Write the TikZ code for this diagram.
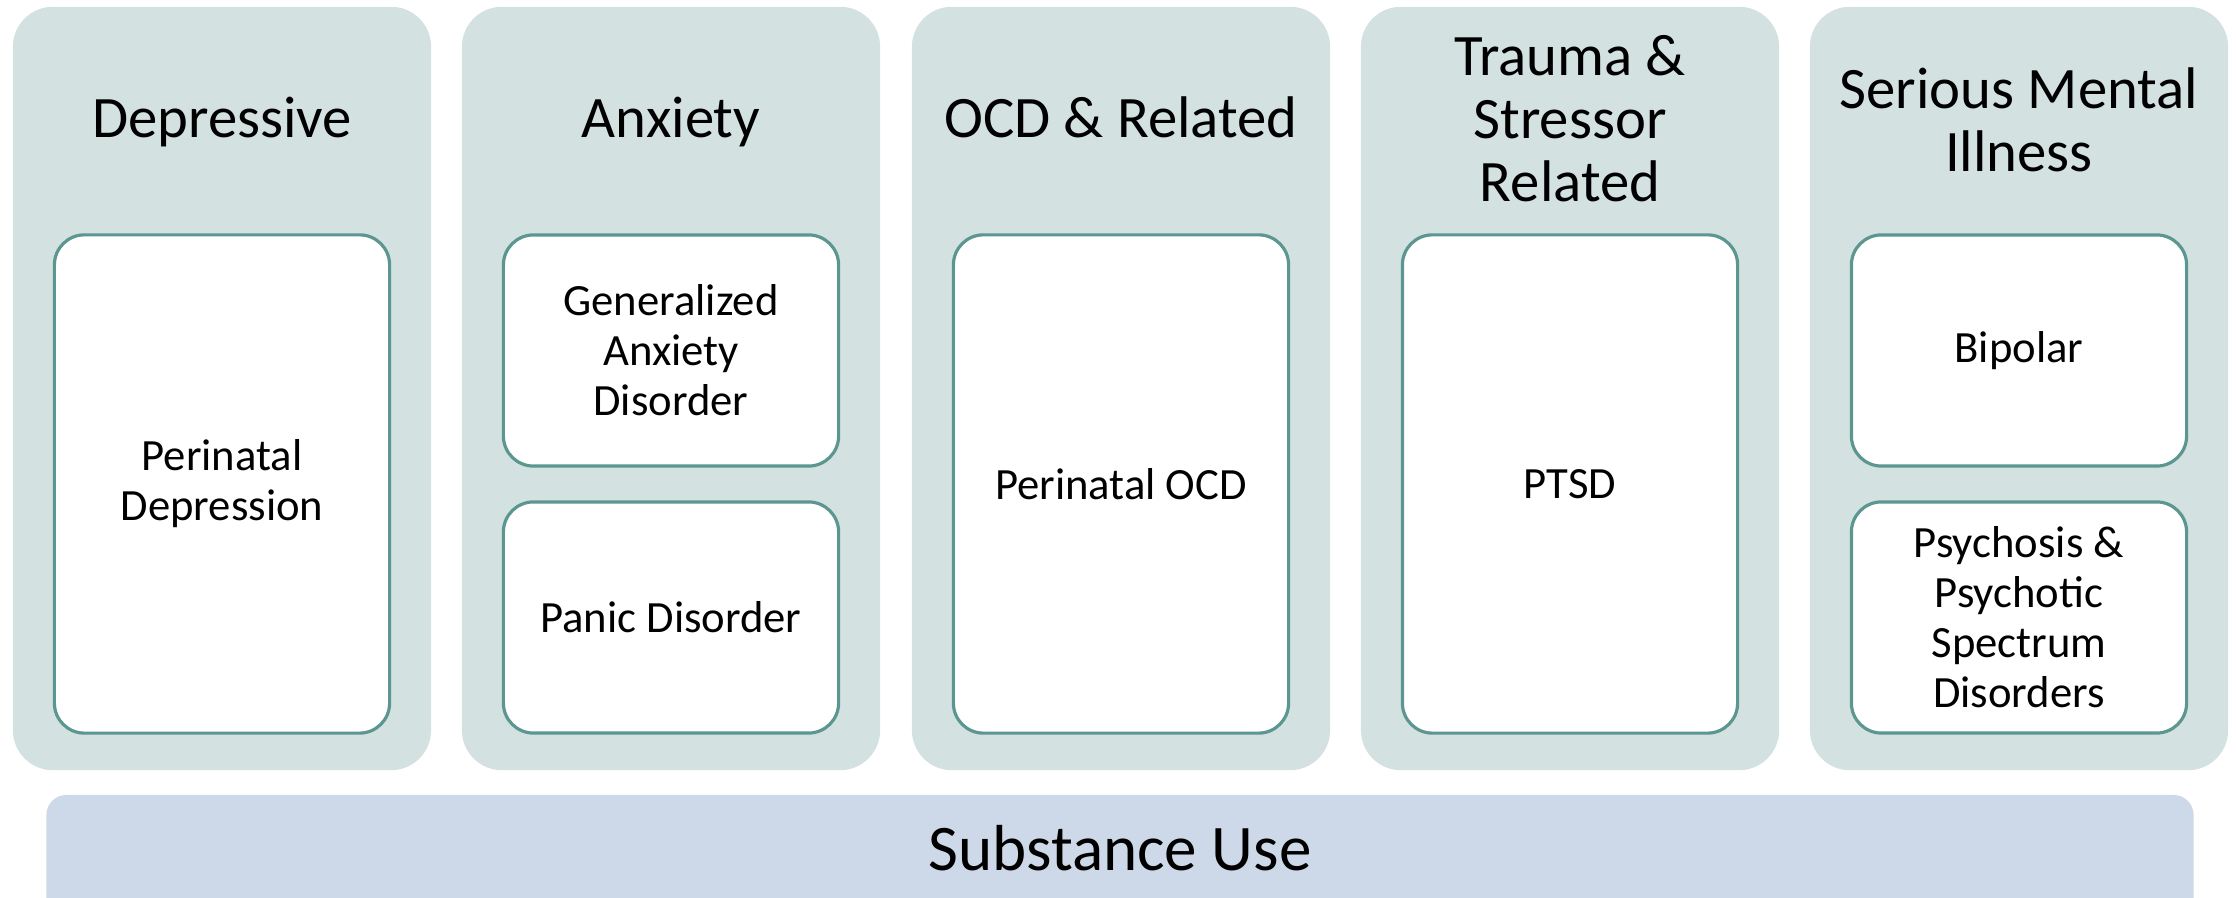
\documentclass[tikz,border=0pt]{standalone}
\usepackage{fontspec}
\setmainfont{Carlito}
\usepackage{tikz}

\definecolor{groupfill}{HTML}{D4E1E1}
\definecolor{itemline}{HTML}{5B9690}
\definecolor{barfill}{HTML}{CDD8E8}

\begin{document}
\begin{tikzpicture}[x=0.01cm,y=-0.01cm,
	group/.style={shape=rectangle,fill=groupfill,rounded corners=0.4cm,minimum width=4.18cm,minimum height=7.63cm,inner sep=0pt},
	heading/.style={align=center,font=\fontsize{16.7}{17.9}\selectfont},
	tall/.style={shape=rectangle,draw=itemline,line width=0.9pt,fill=white,rounded corners=0.3cm,minimum width=3.35cm,minimum height=4.98cm,inner sep=0pt,align=center,font=\fontsize{12.7}{14.2}\selectfont},
	short/.style={tall,minimum height=2.31cm}]
	\useasboundingbox (0,0) rectangle (2236,898);
	\clip (0,0) rectangle (2236,898);

	% groups
	\node[group] (dep)    at (222, 388.5)  {};
	\node[group] (anx)    at (671, 388.5)  {};
	\node[group] (ocd)    at (1121, 388.5) {};
	\node[group] (trauma) at (1570, 388.5) {};
	\node[group] (smi)    at (2019, 388.5) {};

	\node[heading,anchor=base] (depT) at (222, 138)  {Depressive};
	\node[heading,anchor=base] (anxT) at (671, 138)  {Anxiety};
	\node[heading,anchor=base] (ocdT) at (1121, 138) {OCD \& Related};
	\node[heading] (traumaT) at (1570, 119) {Trauma \&\\Stressor\\Related};
	\node[heading] (smiT)    at (2019, 120) {Serious Mental\\Illness};

	% disorders
	\node[tall]  (perdep) at (222, 484)    {Perinatal\\Depression};
	\node[short] (gad)    at (671, 350.5)  {Generalized\\Anxiety\\Disorder};
	\node[short] (panic)  at (671, 617.5)  {Panic Disorder};
	\node[tall]  (perocd) at (1121, 484)   {Perinatal OCD};
	\node[tall]  (ptsd)   at (1570, 484)   {PTSD};
	\node[short] (bip)    at (2019, 350.5) {Bipolar};
	\node[short] (psy)    at (2019, 617.5) {Psychosis \&\\Psychotic\\Spectrum\\Disorders};

	% substance use bar
	\node[shape=rectangle,fill=barfill,rounded corners=0.2cm,minimum width=21.46cm,minimum height=1.4cm] (bar) at (1120, 865) {};
	\node[font=\fontsize{18.5}{21}\selectfont,anchor=base] (subst) at (1120, 871) {Substance Use};

\end{tikzpicture}
\end{document}
